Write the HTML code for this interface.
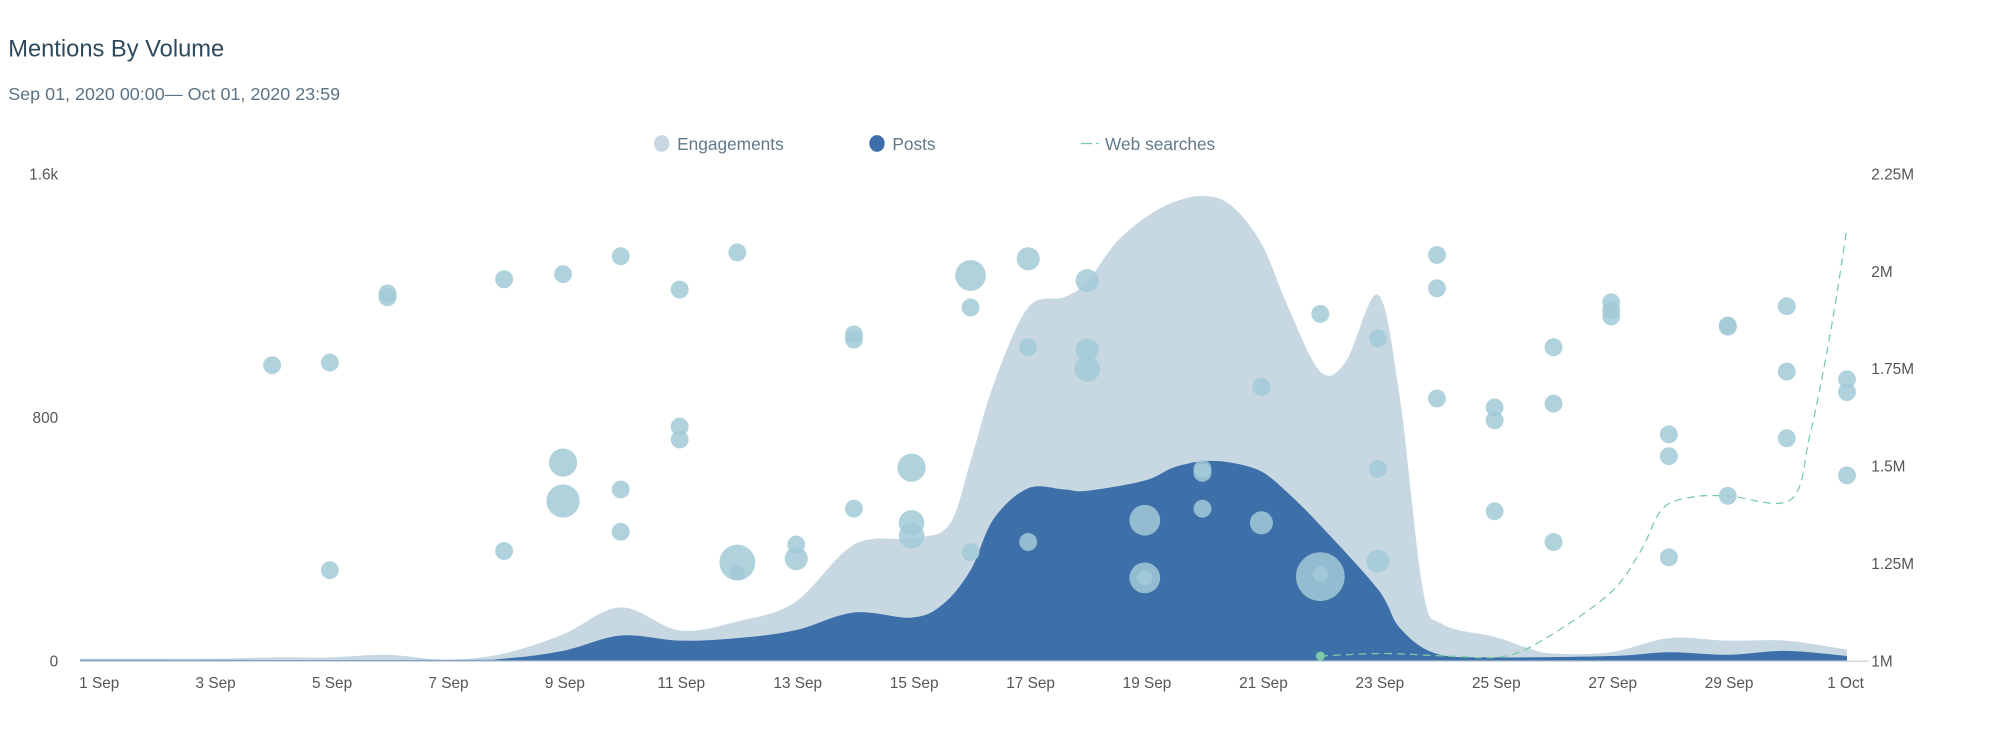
<!DOCTYPE html>
<html><head><meta charset="utf-8"><style>
html,body{margin:0;padding:0;background:#fff;}
svg{display:block;font-family:"Liberation Sans",sans-serif;}
</style></head><body>
<svg id="s" width="2000" height="756" viewBox="0 0 1560 590" xmlns="http://www.w3.org/2000/svg">
<text x="6" y="44" font-size="18.5" fill="#2d4a5c">Mentions By Volume</text>
<text x="6" y="78" font-size="14" fill="#5b7384">Sep 01, 2020 00:00— Oct 01, 2020 23:59</text>
<ellipse cx="516" cy="112" rx="6" ry="6.5" fill="#c7d8e2"/>
<text x="528" y="117" font-size="13.5" fill="#62798a">Engagements</text>
<ellipse cx="684" cy="112" rx="6" ry="6.5" fill="#3d6fa9"/>
<text x="696" y="117" font-size="13.5" fill="#62798a">Posts</text>
<line x1="843" y1="112" x2="852" y2="112" stroke="#7dcba5" stroke-width="1"/>
<line x1="855" y1="112" x2="857" y2="112" stroke="#7dcba5" stroke-width="1"/>
<text x="862" y="117" font-size="13.5" fill="#62798a">Web searches</text>
<g font-size="12" fill="#555">
<text x="45" y="140" text-anchor="end">1.6k</text>
<text x="45" y="330" text-anchor="end">800</text>
<text x="45" y="520" text-anchor="end">0</text>
<text x="1460" y="140">2.25M</text>
<text x="1460" y="216">2M</text>
<text x="1460" y="292">1.75M</text>
<text x="1460" y="368">1.5M</text>
<text x="1460" y="444">1.25M</text>
<text x="1460" y="520">1M</text>
</g>
<g id="areas"></g>
<line x1="62" y1="516" x2="1458" y2="516" stroke="#c9d5de" stroke-width="1"/>
<g id="xl" font-size="12" fill="#555" text-anchor="middle"></g>
<path id="web" fill="none" stroke="#7dcba5" stroke-width="1" stroke-dasharray="6,4"/>
<circle cx="1030" cy="512" r="3.5" fill="#7dcba5"/>
<g id="bub" fill="#a2cad7" fill-opacity="0.85"></g>
</svg>
<script>
const X=d=>77+(d-1)*45.43;
function smooth(pts){let p="M"+pts[0][0]+","+pts[0][1];for(let i=0;i<pts.length-1;i++){const p0=pts[i-1]||pts[i],p1=pts[i],p2=pts[i+1],p3=pts[i+2]||p2;const t=0.5/3;p+=` C${p1[0]+(p2[0]-p0[0])*t},${p1[1]+(p2[1]-p0[1])*t} ${p2[0]-(p3[0]-p1[0])*t},${p2[1]-(p3[1]-p1[1])*t} ${p2[0]},${p2[1]}`;}return p;}
const eng=[[62,514],[77,514],[167,514],[212,513],[257,513],[302,511],[348,515],[393,510],[439,495],[484,474],[530,492],[575,485],[620,470],[666,425],[711,420],[740,410],[757,360],[775,300],[802,240],[830,232],[848,220],[870,190],[893,170],[915,158],[938,153],[960,160],[984,190],[1005,240],[1030,290],[1050,282],[1075,230],[1092,310],[1110,460],[1125,487],[1166,497],[1190,505],[1211,510],[1257,509],[1302,498],[1348,500],[1393,500],[1441,507]];
const pos=[[62,515],[77,515],[348,515],[393,514],[439,508],[484,496],[530,500],[575,498],[620,492],[666,478],[711,482],[735,472],[757,445],[775,405],[802,381],[830,382],[848,383],[893,375],[915,365],[938,360],[960,361],[984,368],[1005,385],[1030,410],[1075,460],[1092,490],[1120,510],[1166,513],[1257,512],[1302,509],[1348,511],[1393,508],[1441,512]];
const web=[[1030,512],[1080,510],[1130,512],[1175,512],[1211,495],[1257,462],[1280,430],[1297,397],[1320,388],[1348,387],[1397,390],[1412,340],[1428,260],[1441,178]];
let h='<path d="'+smooth(eng)+' L1441,516 L62,516 Z" fill="#c7d8e2"/>';
h+='<path d="'+smooth(pos)+' L1441,516 L62,516 Z" fill="#3d6fa9"/>';
document.getElementById('areas').innerHTML=h;
document.getElementById('web').setAttribute('d',smooth(web));
let xl='';for(let d=1;d<=29;d+=2)xl+=`<text x="${X(d)}" y="537">${d} Sep</text>`;xl+=`<text x="${X(31)}" y="537">1 Oct</text>`;
document.getElementById('xl').innerHTML=xl;
const B=[[212,285,7],[257,283,7],[257,445,7],[302,229,7],[302,232,7],[393,218,7],[393,430,7],[439,214,7],[439,361,11],[439,391,13],[484,200,7],[484,382,7],[484,415,7],[530,226,7],[530,333,7],[530,343,7],[575,197,7],[575,439,14],[575,447,6],[621,425,7],[621,436,9],[666,261,7],[666,265,7],[666,397,7],[711,365,11],[711,408,10],[711,418,10],[757,215,12],[757,240,7],[757,431,7],[802,202,9],[802,271,7],[802,423,7],[848,219,9],[848,273,9],[848,288,10],[893,406,12],[893,451,12],[893,451,6],[938,366,7],[938,369,7],[938,397,7],[984,302,7],[984,408,9],[1030,245,7],[1030,450,19],[1030,448,6],[1075,264,7],[1075,366,7],[1075,438,9],[1121,199,7],[1121,225,7],[1121,311,7],[1166,318,7],[1166,328,7],[1166,399,7],[1212,271,7],[1212,315,7],[1212,423,7],[1257,236,7],[1257,242,7],[1257,247,7],[1302,339,7],[1302,356,7],[1302,435,7],[1348,254,7],[1348,255,7],[1348,387,7],[1394,239,7],[1394,290,7],[1394,342,7],[1441,296,7],[1441,306,7],[1441,371,7]];
document.getElementById('bub').innerHTML=B.map(b=>`<circle cx="${b[0]}" cy="${b[1]}" r="${b[2]}"/>`).join('');
</script>
</body></html>
